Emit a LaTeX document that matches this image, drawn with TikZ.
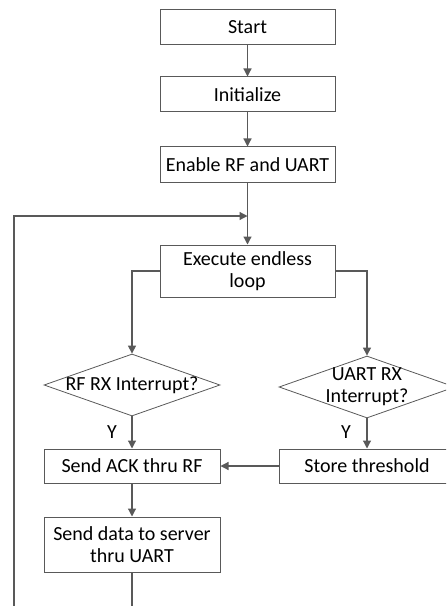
\documentclass[tikz,border=0pt]{standalone}
\usepackage{fontspec}
\setmainfont{Carlito}
\usetikzlibrary{shapes.geometric,arrows.meta}
\definecolor{lc}{HTML}{595959}
\begin{document}
\begin{tikzpicture}[x=0.75pt,y=-0.75pt,
  every node/.style={font=\fontsize{15}{16.5}\selectfont, text=black},
  box/.style={draw=lc, line width=0.75pt, rectangle, inner sep=0pt, minimum width=131.25pt, align=center},
  diam/.style={draw=lc, line width=0.6pt, diamond, inner sep=0pt, minimum width=132pt, minimum height=46.5pt},
  conn/.style={draw=lc, line width=0.9pt, -{Triangle[length=6pt,width=6pt]}},
  plain/.style={draw=lc, line width=0.9pt}]
\useasboundingbox (0,0) rectangle (446,606);
\clip (0,0) rectangle (446,606);
\node[box, minimum height=26.25pt] (start) at (247.5,27.5) {Start};
\node[box, minimum height=26.25pt] (init) at (247.5,94.5) {Initialize};
\node[box, minimum height=26.25pt] (enable) at (247.5,164.5) {Enable RF and UART};
\node[box, minimum height=39pt] (exec) at (247.5,271) {Execute endless\\loop};
\node[diam] (d1) at (132,385) {};
\node at (d1.center) {RF RX Interrupt?};
\node[diam] (d2) at (367,387) {};
\node[align=center] at (d2.center) {UART RX\\Interrupt?};
\node[box, minimum width=132pt, minimum height=25.5pt] (ack) at (132,466) {Send ACK thru RF};
\node[box, minimum width=132pt, minimum height=25.5pt] (store) at (367,466) {Store threshold};
\node[box, minimum width=132pt, minimum height=41.25pt] (data) at (132,544.5) {Send data to server\\thru UART};
\node (y1) at (112,432) {Y};
\node (y2) at (346,432) {Y};
\coordinate (merge) at (247.5,216);
\coordinate (bot) at (132,640);
\coordinate (corner) at (14,640);
\coordinate (top) at (14,216);
\draw[conn] (start) -- (init);
\draw[conn] (init) -- (enable);
\draw[plain] (enable) -- (merge);
\draw[conn] (merge) -- (exec);
\draw[conn] (exec.west) -| (d1.north);
\draw[conn] (exec.east) -| (d2.north);
\draw[conn] (d1) -- (ack);
\draw[conn] (d2) -- (store);
\draw[conn] (store) -- (ack);
\draw[conn] (ack) -- (data);
\draw[conn] (data.south) -- (bot) -- (corner) -- (top) -- (merge);
\end{tikzpicture}
\end{document}
